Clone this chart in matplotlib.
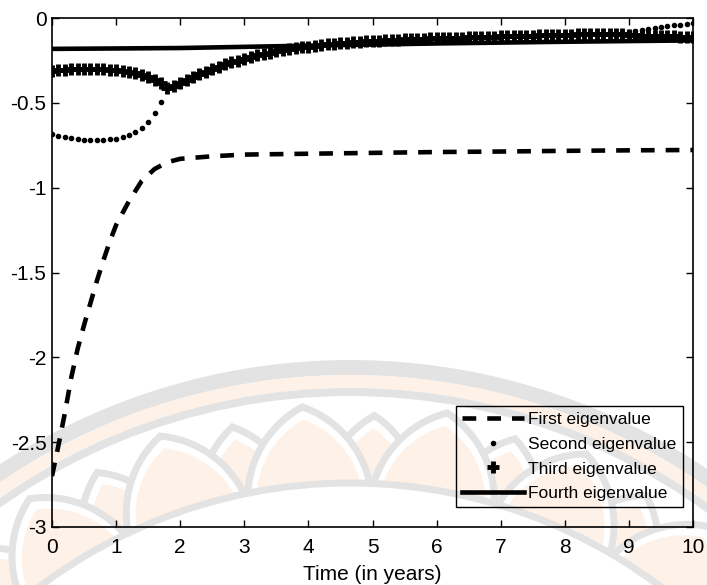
import numpy as np
import matplotlib
matplotlib.use('Agg')
import matplotlib.pyplot as plt
from matplotlib.patches import Wedge, Polygon, Circle

plt.rcParams['font.family'] = ['Liberation Sans', 'DejaVu Sans']
plt.rcParams['axes.unicode_minus'] = False

# time grid of the simulation (years)
time = np.linspace(0, 10, 101)

# first eigenvalue (dashed)
first_t = [0, 0.1, 0.2, 0.3, 0.4, 0.5, 0.6, 0.7, 0.8, 0.9, 1.0, 1.2, 1.4, 1.6, 1.8,
           2.0, 2.5, 3.0, 4.0, 5.0, 6.0, 7.0, 8.0, 9.0, 10.0]
first_ev = [-2.70, -2.52, -2.33, -2.12, -1.95, -1.81, -1.68, -1.55, -1.43, -1.32, -1.22,
            -1.08, -0.96, -0.89, -0.85, -0.83, -0.815, -0.805, -0.80, -0.795, -0.79,
            -0.787, -0.783, -0.78, -0.778]

# second and third eigenvalues, t = 0 .. 1.8 (both real)
second_early = [-0.685, -0.695, -0.703, -0.709, -0.714, -0.717, -0.719, -0.720, -0.719,
                -0.716, -0.711, -0.703, -0.691, -0.673, -0.648, -0.612, -0.562, -0.495,
                -0.415]
third_early = [-0.310, -0.308, -0.305, -0.303, -0.302, -0.301, -0.301, -0.302, -0.303,
               -0.305, -0.308, -0.312, -0.318, -0.326, -0.336, -0.349, -0.365, -0.386,
               -0.415]
# t = 1.9 .. 8.8 the two coincide (complex pair, same real part)
pair_real = [-0.398, -0.381, -0.364, -0.347, -0.331, -0.316, -0.301, -0.287, -0.274, -0.262,
             -0.251, -0.240, -0.230, -0.221, -0.212, -0.204, -0.197, -0.190, -0.184, -0.178,
             -0.173, -0.168, -0.163, -0.159, -0.155, -0.151, -0.148, -0.145, -0.142, -0.139,
             -0.137, -0.135, -0.133, -0.131, -0.129, -0.127, -0.126, -0.124, -0.123, -0.121,
             -0.120, -0.119, -0.118, -0.117, -0.116, -0.115, -0.114, -0.113, -0.112, -0.111,
             -0.110, -0.109, -0.108, -0.107, -0.106, -0.105, -0.104, -0.103, -0.102, -0.101,
             -0.100, -0.099, -0.098, -0.097, -0.096, -0.096, -0.095, -0.095, -0.094, -0.094]
# t = 8.9 .. 10 they split again
second_late = [-0.088, -0.082, -0.076, -0.070, -0.064, -0.058, -0.053, -0.048, -0.043,
               -0.039, -0.035, -0.031]
third_late = [-0.097, -0.100, -0.102, -0.104, -0.105, -0.106, -0.107, -0.108, -0.109,
              -0.110, -0.110, -0.111]

second_ev = second_early + pair_real + second_late
third_ev = third_early + pair_real + third_late

# fourth eigenvalue (solid)
fourth_t = [0, 2, 4, 6, 8, 10]
fourth_ev = [-0.182, -0.177, -0.163, -0.150, -0.140, -0.132]

labels = ['First eigenvalue', 'Second eigenvalue', 'Third eigenvalue', 'Fourth eigenvalue']

fig = plt.figure(figsize=(7.07, 5.85), dpi=100)

# faint lotus emblem behind the plot
bg = fig.add_axes([0, 0, 1, 1], zorder=0)
bg.set_xlim(0, 707)
bg.set_ylim(585, 0)
bg.axis('off')
grey = '#e3e3e3'
peach = '#fef1e7'
cx, cy = 350, 1000


def petal(ang, r0, h, w):
    a = np.deg2rad(ang)
    er = np.array([np.sin(a), -np.cos(a)])
    et = np.array([np.cos(a), np.sin(a)])
    rho = (w ** 2 + h ** 2) / (2 * w)
    v = np.linspace(0, h, 40)
    u = np.sqrt(rho ** 2 - v ** 2) - (rho - w)
    us = np.concatenate([[w], u, -u[::-1], [-w]])
    vs = np.concatenate([[-90], v, v[::-1], [-90]])
    return np.array([cx, cy]) + np.outer(r0 + vs, er) + np.outer(us, et)


bg.add_patch(Wedge((cx, cy), 640, 0, 360, width=15, fc=grey, ec='none'))
bg.add_patch(Wedge((cx, cy), 625, 0, 360, width=13, fc=peach, ec='none'))
bg.add_patch(Wedge((cx, cy), 612, 0, 360, width=8, fc=grey, ec='none'))

for ang in [-39.6, -25.6, -11.6, 2.4, 16.4, 30.4, 44.4]:
    bg.add_patch(Polygon(petal(ang, 500, 85, 48), fc='white', ec=grey, lw=5))
    bg.add_patch(Polygon(petal(ang, 500, 72, 39), fc=peach, ec='none'))
for ang in [-46.6, -32.6, -18.6, -4.6, 9.4, 23.4, 37.4, 51.4]:
    bg.add_patch(Polygon(petal(ang, 500, 95, 62), fc='white', ec=grey, lw=5))
    bg.add_patch(Polygon(petal(ang, 500, 82, 53), fc=peach, ec='none'))
bg.add_patch(Circle((cx, cy), 517, fc='white', ec=grey, lw=5))

ax = fig.add_axes([52 / 707, 58 / 585, 641 / 707, 509 / 585], zorder=1)
ax.set_facecolor('none')

ax.plot(first_t, first_ev, color='k', lw=3.3, ls=(0, (3.0, 2.4)), label=labels[0])
ax.plot(time, second_ev, ls='none', marker='o', ms=3, color='k', label=labels[1])
ax.plot(time, third_ev, ls='none', marker='+', ms=9, mew=3.5, color='k', label=labels[2])
ax.plot(fourth_t, fourth_ev, color='k', lw=3.3, label=labels[3])

ax.set_xlim(0, 10)
ax.set_ylim(-3, 0)
ax.set_xticks(range(0, 11))
ax.set_yticks([-3, -2.5, -2, -1.5, -1, -0.5, 0])
ax.set_yticklabels(['-3', '-2.5', '-2', '-1.5', '-1', '-0.5', '0'])
ax.tick_params(direction='in', length=5, width=1, top=True, right=True, labelsize=15)
ax.tick_params(axis='x', pad=8)
ax.tick_params(axis='y', pad=4)
for s in ax.spines.values():
    s.set_linewidth(1.2)

ax.set_xlabel('Time (in years)', fontsize=15, labelpad=6)

leg = ax.legend(loc='lower right', bbox_to_anchor=(0.984, 0.039), borderaxespad=0,
                fancybox=False, edgecolor='k', facecolor='none', framealpha=1,
                fontsize=12.5, handlelength=3.6, handletextpad=0.25, borderpad=0.35,
                labelspacing=0.54, numpoints=1)
leg.get_frame().set_linewidth(1.0)

fig.savefig('out.png', dpi=100)
